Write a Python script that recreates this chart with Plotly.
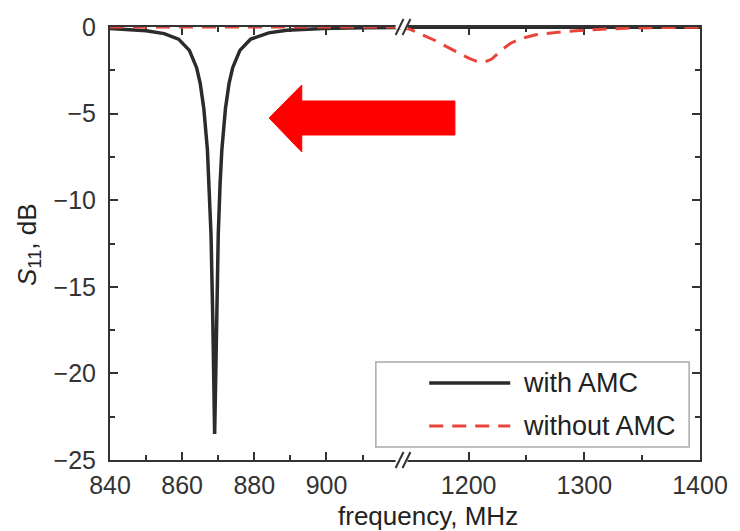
import plotly.graph_objects as go

# ---------------- data ----------------
freq_amc_left = [840, 845, 850, 855, 859, 862, 864, 865, 866, 867, 867.5, 868, 868.5, 868.75,
                 869, 869.25, 869.5, 870, 870.5, 871, 872, 873, 874, 876, 879, 884, 889, 899, 910, 921]
s11_amc_left = [-0.09, -0.14, -0.22, -0.38, -0.7, -1.35, -2.35, -3.25, -4.7, -7.1, -9.1, -12.0, -17.0, -20.8,
                -23.5, -20.8, -17.0, -12.0, -9.1, -7.1, -4.7, -3.25, -2.35, -1.35, -0.7, -0.34, -0.19, -0.09, -0.05, -0.03]
freq_amc_right = [1142, 1200, 1300, 1400]
s11_amc_right = [-0.02, -0.02, -0.01, -0.01]

freq_noamc_left = [840, 860, 880, 900, 921]
s11_noamc_left = [0.0, 0.0, 0.0, 0.0, 0.0]
freq_noamc_right = [1142, 1150, 1160, 1170, 1180, 1190, 1200, 1207, 1213, 1220, 1228, 1236, 1246,
                    1258, 1270, 1285, 1300, 1320, 1340, 1370, 1400]
s11_noamc_right = [0.0, -0.15, -0.45, -0.75, -1.1, -1.45, -1.8, -1.98, -2.05, -1.85, -1.35, -0.95, -0.65,
                   -0.45, -0.35, -0.25, -0.18, -0.1, -0.06, -0.03, -0.01]

x_left_ticks = [840, 860, 880, 900]
x_left_minor = [850, 870, 890, 910]
x_right_ticks = [1200, 1300, 1400]
x_right_minor = [1250, 1350]
y_ticks = [0, -5, -10, -15, -20, -25]

series_names = ["with AMC", "without AMC"]

# ---------------- layout geometry ----------------
W, H = 740, 531
L, R, T, B = 110, 707, 27, 460


def px(X):
    return (X - L) / (R - L)


def py(Y):
    return (B - Y) / (B - T)


split = px(405)

BLACK = "#2b2b2b"
RED = "#e8443a"
AX = "#333333"
FONT = "Liberation Sans, Arial, sans-serif"

fig = go.Figure()
fig.add_trace(go.Scatter(x=freq_amc_left, y=s11_amc_left, mode="lines", xaxis="x", yaxis="y",
                         line=dict(color=BLACK, width=3.5), showlegend=False))
fig.add_trace(go.Scatter(x=freq_amc_right, y=s11_amc_right, mode="lines", xaxis="x2", yaxis="y2",
                         line=dict(color=BLACK, width=3.5), showlegend=False))
fig.add_trace(go.Scatter(x=freq_noamc_left, y=s11_noamc_left, mode="lines", xaxis="x", yaxis="y",
                         line=dict(color=RED, width=3, dash="14px,9px"), showlegend=False))
fig.add_trace(go.Scatter(x=freq_noamc_right, y=s11_noamc_right, mode="lines", xaxis="x2", yaxis="y2",
                         line=dict(color=RED, width=3, dash="14px,9px"), showlegend=False))

common_ax = dict(showline=True, linecolor=AX, linewidth=2, ticks="inside", ticklen=8, tickwidth=2,
                 tickcolor=AX, showgrid=False, zeroline=False, layer="below traces",
                 tickfont=dict(family=FONT, size=25, color="#333333"))

fig.update_layout(
    width=W, height=H,
    margin=dict(l=L, r=W - R, t=T, b=H - B),
    paper_bgcolor="white", plot_bgcolor="white",
    showlegend=False,
    xaxis=dict(domain=[0, split], range=[840, 920.8], anchor="y", mirror="ticks",
               tickmode="array", tickvals=x_left_ticks, ticklabelstandoff=2,
               minor=dict(tickmode="array", tickvals=x_left_minor, ticks="inside", ticklen=5,
                          tickwidth=2, tickcolor=AX),
               **common_ax),
    xaxis2=dict(domain=[split, 1], range=[1142, 1400], anchor="y2", mirror="ticks",
                tickmode="array", tickvals=x_right_ticks, ticklabelstandoff=2,
                minor=dict(tickmode="array", tickvals=x_right_minor, ticks="inside", ticklen=5,
                           tickwidth=2, tickcolor=AX),
                **common_ax),
    yaxis=dict(domain=[0, 1], range=[-25, 0], anchor="x", side="left",
               tickmode="array", tickvals=y_ticks, ticklabelstandoff=7,
               minor=dict(dtick=2.5, ticks="inside", ticklen=5, tickwidth=2, tickcolor=AX),
               **common_ax),
    yaxis2=dict(domain=[0, 1], range=[-25, 0], anchor="x2", side="right", matches="y",
                tickmode="array", tickvals=y_ticks, showticklabels=False,
                minor=dict(dtick=2.5, ticks="inside", ticklen=5, tickwidth=2, tickcolor=AX),
                **common_ax),
)

shapes = []
# axis break marks
for yb in (T, B):
    shapes.append(dict(type="rect", xref="paper", yref="paper", x0=px(399), x1=px(411),
                       y0=py(yb + 2), y1=py(yb - 2), fillcolor="white", line=dict(width=0), layer="above"))
    for xo in (399, 406):
        shapes.append(dict(type="line", xref="paper", yref="paper", x0=px(xo), y0=py(yb + 8),
                           x1=px(xo + 8), y1=py(yb - 8), line=dict(color=AX, width=2), layer="above"))

# red arrow
arrow = [(271, 118), (304, 85), (304, 101), (459, 101), (459, 135), (304, 135), (304, 152)]
path = "M " + " L ".join(f"{px(a):.4f},{py(b):.4f}" for a, b in arrow) + " Z"
shapes.append(dict(type="path", xref="paper", yref="paper", path=path, fillcolor="#ff0000",
                   line=dict(color="#ff0000", width=1), layer="above"))

# legend box
shapes.append(dict(type="rect", xref="paper", yref="paper", x0=px(379), x1=px(696), y0=py(447), y1=py(362),
                   fillcolor="white", line=dict(color="#aaaaaa", width=1.5), layer="above"))
shapes.append(dict(type="line", xref="paper", yref="paper", x0=px(433), x1=px(515), y0=py(383), y1=py(383),
                   line=dict(color=BLACK, width=3.5), layer="above"))
shapes.append(dict(type="line", xref="paper", yref="paper", x0=px(433), x1=px(515), y0=py(426), y1=py(426),
                   line=dict(color=RED, width=3, dash="14px,9px"), layer="above"))
fig.update_layout(shapes=shapes)

ann = [
    dict(text=series_names[0], x=px(526), y=py(383), xanchor="left", yanchor="middle", size=27),
    dict(text=series_names[1], x=px(526), y=py(426), xanchor="left", yanchor="middle", size=27),
    dict(text="frequency, MHz", x=px(432), y=py(516), xanchor="center", yanchor="middle", size=26),
    dict(text="<i>S</i><sub>11</sub>, dB", x=px(27), y=py(245), xanchor="center", yanchor="middle",
         textangle=-90, size=26),
]
for a in ann:
    size = a.pop("size")
    a.update(xref="paper", yref="paper", showarrow=False, font=dict(family=FONT, size=size, color="#222222"))
fig.update_layout(annotations=ann)

fig.write_html("out.html")
